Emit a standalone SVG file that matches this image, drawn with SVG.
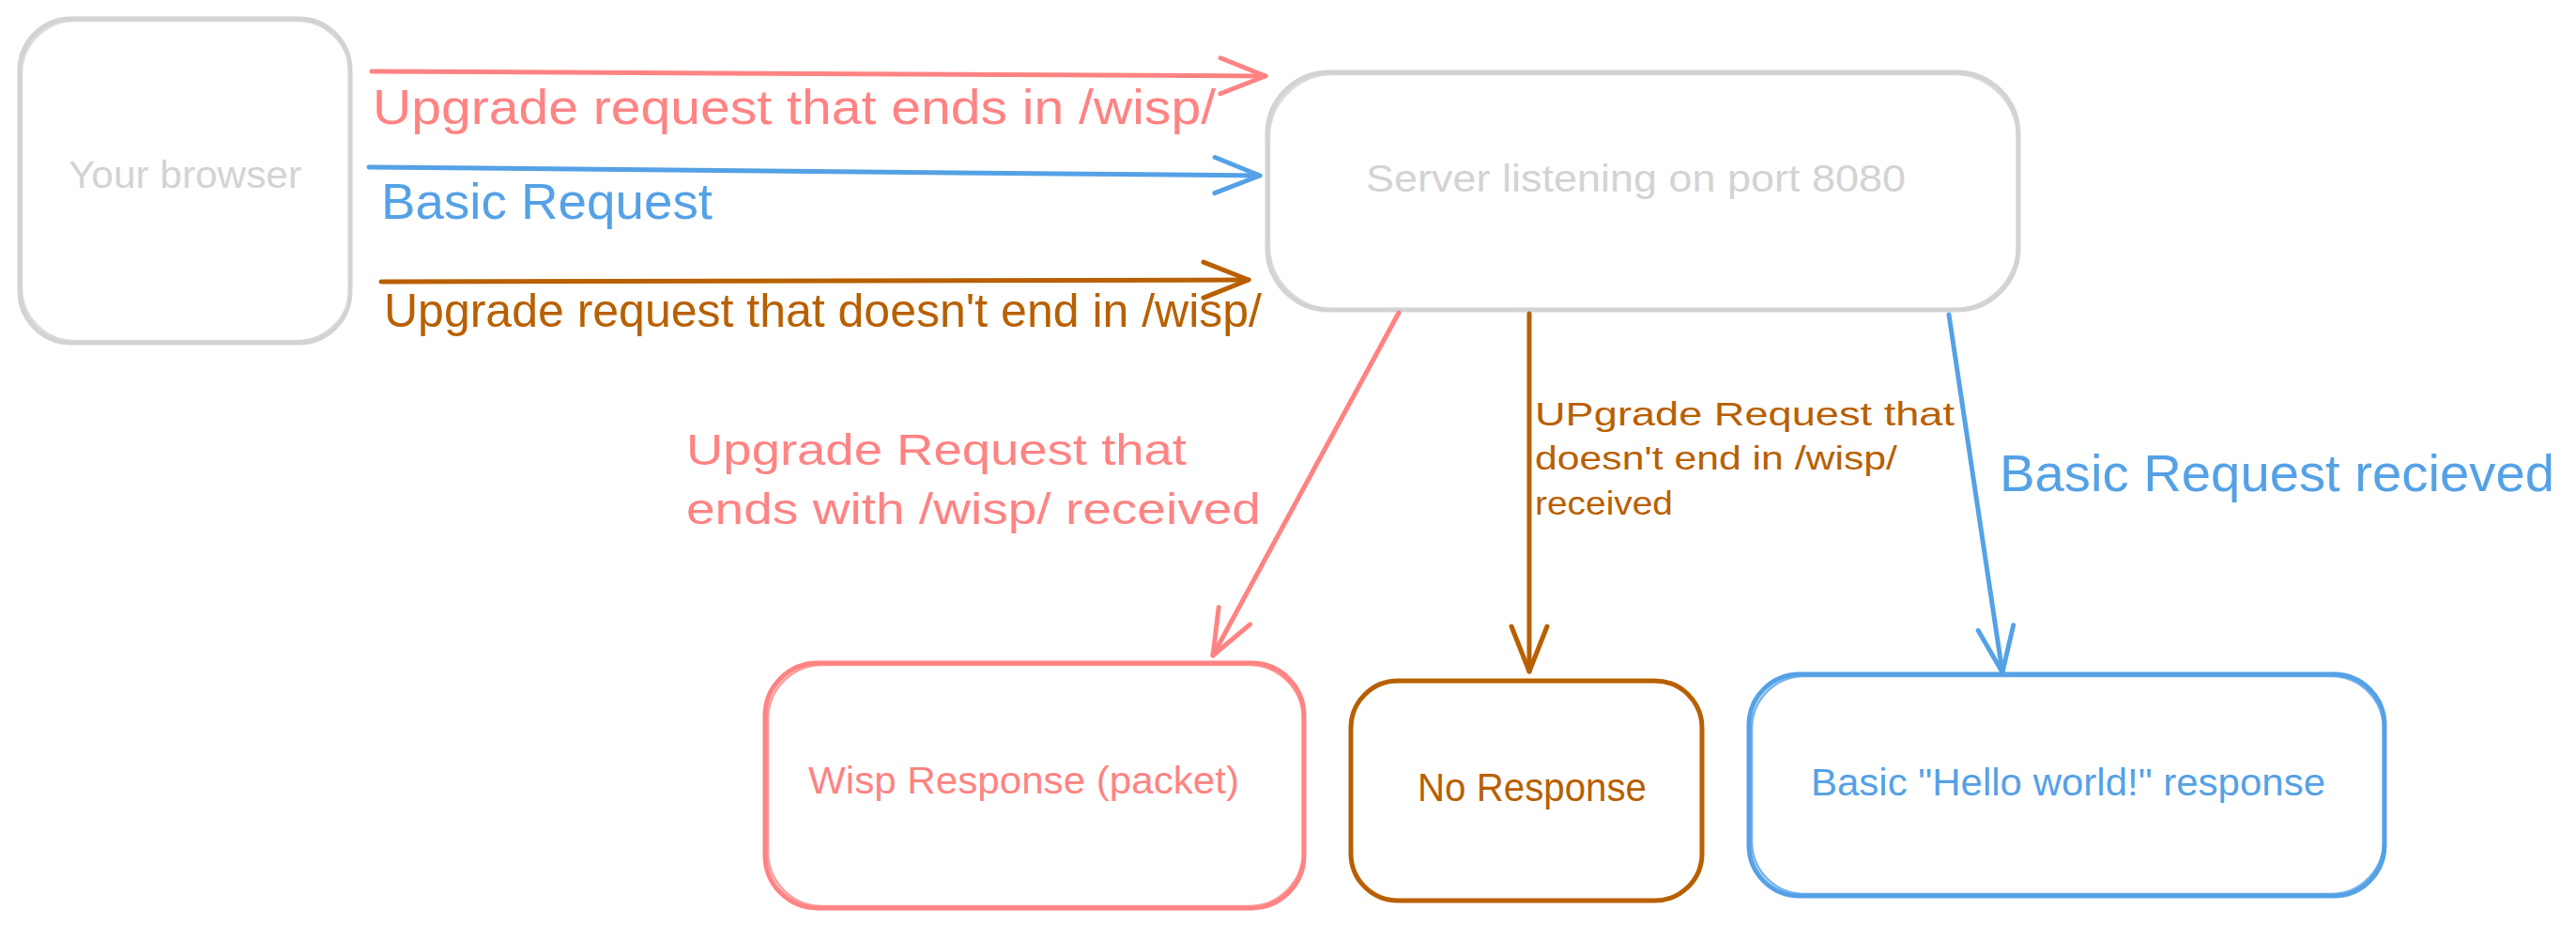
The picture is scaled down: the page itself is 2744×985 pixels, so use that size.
<svg xmlns="http://www.w3.org/2000/svg" width="2744" height="985" viewBox="0 0 2744 985">
<style>
.box{fill:#fff;stroke-width:5;stroke-linejoin:round}
.box2{fill:none;stroke-width:2.5;opacity:.8}
.t{font-family:"Liberation Sans","DejaVu Sans",sans-serif}
.gray{stroke:#d3d3d3}
.red{stroke:#ff8383}
.blue{stroke:#55a1e6}
.brown{stroke:#b86000}
.ln{fill:none;stroke-width:5;stroke-linecap:round}
</style>
<defs>
<marker id="ah-red" markerUnits="userSpaceOnUse" viewBox="-52 -26 58 52" refX="0" refY="0" markerWidth="58" markerHeight="52" orient="auto"><path d="M-48,-19 L0,0 L-48,19" fill="none" stroke="#ff8383" stroke-width="5" stroke-linecap="round" stroke-linejoin="round"/></marker>
<marker id="ah-blue" markerUnits="userSpaceOnUse" viewBox="-52 -26 58 52" refX="0" refY="0" markerWidth="58" markerHeight="52" orient="auto"><path d="M-48,-19 L0,0 L-48,19" fill="none" stroke="#55a1e6" stroke-width="5" stroke-linecap="round" stroke-linejoin="round"/></marker>
<marker id="ah-brown" markerUnits="userSpaceOnUse" viewBox="-52 -26 58 52" refX="0" refY="0" markerWidth="58" markerHeight="52" orient="auto"><path d="M-48,-19 L0,0 L-48,19" fill="none" stroke="#b86000" stroke-width="5" stroke-linecap="round" stroke-linejoin="round"/></marker>
</defs>
<rect width="2744" height="985" fill="#fff"/>

<g id="browser">
<rect class="box gray" x="21" y="20" width="352" height="345" rx="55"/>
<rect class="box2 gray" x="23" y="22" width="350" height="341" rx="57"/>
<text class="t" x="73" y="200" font-size="40" fill="#d3d3d3" textLength="248" lengthAdjust="spacingAndGlyphs">Your browser</text>
</g>

<g id="server">
<rect class="box gray" x="1350" y="77" width="800" height="253" rx="66"/>
<rect class="box2 gray" x="1352" y="79" width="797" height="250" rx="68"/>
<text class="t" x="1455" y="204" font-size="40" fill="#d3d3d3" textLength="575" lengthAdjust="spacingAndGlyphs">Server listening on port 8080</text>
</g>

<g id="wisp">
<rect class="box red" x="815" y="706" width="574" height="261" rx="56"/>
<rect class="box2 red" x="818" y="708" width="570" height="257" rx="58"/>
<text class="t" x="861" y="845" font-size="40" fill="#ff8383" textLength="459" lengthAdjust="spacingAndGlyphs">Wisp Response (packet)</text>
</g>

<g id="noresponse">
<rect class="box brown" x="1439" y="725" width="374" height="234" rx="50"/>
<text class="t" x="1510" y="853" font-size="42" fill="#b86000" textLength="244" lengthAdjust="spacingAndGlyphs">No Response</text>
</g>

<g id="hello">
<rect class="box blue" x="1863" y="718" width="677" height="236" rx="54"/>
<rect class="box2 blue" x="1866" y="720" width="673" height="232" rx="56"/>
<text class="t" x="1929" y="847" font-size="40" fill="#55a1e6" textLength="548" lengthAdjust="spacingAndGlyphs">Basic "Hello world!" response</text>
</g>

<g id="connectors">
<path class="ln red" d="M396,76 L1348,81" marker-end="url(#ah-red)"/>
<path class="ln blue" d="M393,178 L1342,187" marker-end="url(#ah-blue)"/>
<path class="ln brown" d="M406,300 L1330,298" marker-end="url(#ah-brown)"/>
<path class="ln red" d="M1490,333 L1292,698" marker-end="url(#ah-red)"/>
<path class="ln brown" d="M1629,334 L1629,715" marker-end="url(#ah-brown)"/>
<path class="ln blue" d="M2076,335 L2133,716" marker-end="url(#ah-blue)"/>

<text class="t" x="397" y="132" font-size="52" fill="#ff8383" textLength="898" lengthAdjust="spacingAndGlyphs">Upgrade request that ends in /wisp/</text>
<text class="t" x="406" y="233" font-size="54" fill="#55a1e6" textLength="353" lengthAdjust="spacingAndGlyphs">Basic Request</text>
<text class="t" x="409" y="348" font-size="50" fill="#b86000" textLength="935" lengthAdjust="spacingAndGlyphs">Upgrade request that doesn't end in /wisp/</text>

<text class="t" x="731" y="495" font-size="46" fill="#ff8383" textLength="533" lengthAdjust="spacingAndGlyphs">Upgrade Request that</text>
<text class="t" x="731" y="558" font-size="46" fill="#ff8383" textLength="612" lengthAdjust="spacingAndGlyphs">ends with /wisp/ received</text>

<text class="t" x="1635" y="453" font-size="35" fill="#b86000" textLength="447" lengthAdjust="spacingAndGlyphs">UPgrade Request that</text>
<text class="t" x="1635" y="500" font-size="35" fill="#b86000" textLength="386" lengthAdjust="spacingAndGlyphs">doesn't end in /wisp/</text>
<text class="t" x="1635" y="548" font-size="35" fill="#b86000" textLength="147" lengthAdjust="spacingAndGlyphs">received</text>

<text class="t" x="2130" y="523" font-size="56" fill="#55a1e6" textLength="591" lengthAdjust="spacingAndGlyphs">Basic Request recieved</text>
</g>
</svg>
